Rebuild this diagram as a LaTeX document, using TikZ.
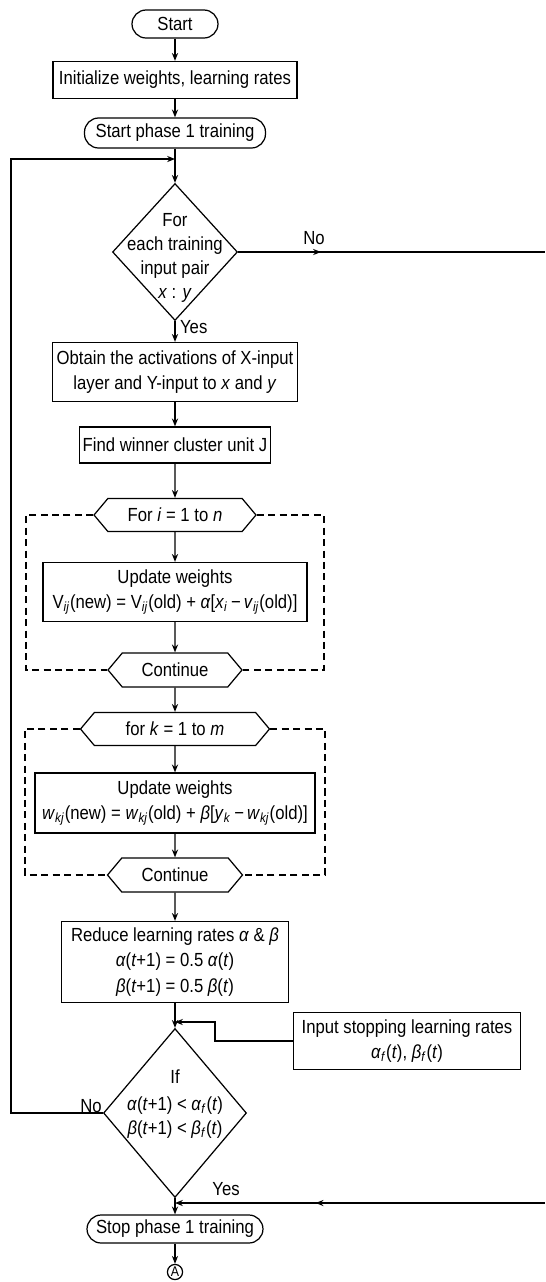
\documentclass[tikz,border=0pt]{standalone}
\usepackage{fontspec}
\setmainfont{Liberation Sans}[FakeStretch=0.88]
\usepackage{tikz}
\usetikzlibrary{positioning,arrows.meta,shapes.geometric,shapes.symbols,decorations.markings}
\newcommand{\vi}[1]{\textit{#1}}
\newcommand{\sbi}[1]{\textsubscript{\textit{#1}}}
\tikzset{
  base/.style={draw=black, line width=0.7pt, fill=white, font=\fontsize{10.8}{14.5}\selectfont, align=center, inner sep=1pt},
  term/.style={base, rectangle, rounded corners=8pt},
  proc/.style={base, rectangle},
  hexa/.style={base, signal, signal to=west and east, signal pointer angle=100},
  dec/.style={base, diamond, inner sep=0pt},
  dtxt/.style={font=\fontsize{10.8}{13.5}\selectfont, align=center, inner sep=0pt},
  lbl/.style={font=\fontsize{10.8}{13}\selectfont, inner sep=1pt},
  conn/.style={base, circle, inner sep=0.5pt, minimum size=0.24cm, font=\fontsize{8}{9}\selectfont},
  ln/.style={draw=black, line width=0.7pt},
  arr/.style={ln, -{Stealth[length=4.5pt, width=3.5pt]}},
  midarr/.style={postaction={decorate}, decoration={markings, mark=at position #1 with {\arrow{Stealth[length=4.5pt, width=3.5pt]}}}},
  loopbox/.style={draw=black, line width=0.6pt, dash pattern=on 4pt off 2.5pt}
}
\begin{document}
\begin{tikzpicture}[x=0.02cm, y=-0.02cm]
        \useasboundingbox (0,0) rectangle (545,1282);
        % main column
        \node[term, minimum width=1.72cm, minimum height=0.56cm] (start) at (175,24) {Start};
        \node[proc, minimum width=4.88cm, minimum height=0.74cm] (init) at (175,80) {Initialize weights, learning rates};
        \node[term, minimum width=3.62cm, minimum height=0.6cm] (ph1) at (175,133) {Start phase 1 training};
        \coordinate (top) at (175,159);
        \node[dec, minimum width=2.5cm, minimum height=2.74cm] (q1) at (175,252) {};
        \node[dtxt] (q1t) at (175,258) {For\\each training\\input pair\\\vi{x} : \vi{y}};
        \node[proc, minimum width=4.9cm, minimum height=1.18cm] (obt) at (175,372) {Obtain the activations of X-input\\layer and Y-input to \vi{x} and \vi{y}};
        \node[proc, minimum width=3.82cm, minimum height=0.72cm] (find) at (175,445) {Find winner cluster unit J};
        \node[hexa, minimum width=3.24cm, minimum height=0.66cm] (fori) at (175,515) {For \vi{i} = 1 to \vi{n}};
        \node[proc, minimum width=5.28cm, minimum height=1.18cm] (upd1) at (175,592) {Update weights\\V\sbi{ij}(new) = V\sbi{ij}(old) + \vi{α}[\vi{x}\sbi{i}\,−\,\vi{v}\sbi{ij}(old)]};
        \node[hexa, minimum width=2.68cm, minimum height=0.68cm] (cont1) at (175,670) {Continue};
        \node[hexa, minimum width=3.78cm, minimum height=0.66cm] (fork) at (175,729) {for \vi{k} = 1 to \vi{m}};
        \node[proc, minimum width=5.6cm, minimum height=1.2cm] (upd2) at (175,803) {Update weights\\\vi{w}\sbi{kj}(new) = \vi{w}\sbi{kj}(old) + \vi{β}[\vi{y}\sbi{k}\,−\,\vi{w}\sbi{kj}(old)]};
        \node[hexa, minimum width=2.7cm, minimum height=0.68cm] (cont2) at (175,875) {Continue};
        \node[proc, minimum width=4.54cm, minimum height=1.62cm] (red) at (175,962) {Reduce learning rates \vi{α} \& \vi{β}\\\vi{α}(\vi{t}+1) = 0.5 \vi{α}(\vi{t})\\\vi{β}(\vi{t}+1) = 0.5 \vi{β}(\vi{t})};
        \node[proc, minimum width=4.54cm, minimum height=1.14cm] (inp) at (407,1041) {Input stopping learning rates\\\vi{α}\sbi{f}(\vi{t}), \vi{β}\sbi{f}(\vi{t})};
        \coordinate (mj) at (175,1022);
        \coordinate (bend) at (215,1022);
        \node[dec, minimum width=2.86cm, minimum height=3.38cm] (q2) at (175,1113) {};
        \node[dtxt] (q2t) at (175,1104) {If\\[2pt]\vi{α}(\vi{t}+1) < \vi{α}\sbi{f}(\vi{t})\\\vi{β}(\vi{t}+1) < \vi{β}\sbi{f}(\vi{t})};
        \coordinate (bot) at (175,1203);
        \node[term, minimum width=3.52cm, minimum height=0.56cm] (stop) at (175,1229) {Stop phase 1 training};
        \node[conn] (A) at (175,1272) {A};
        % loop frames
        \coordinate (d1a) at (26,515); \coordinate (d1b) at (324,515);
        \coordinate (d2a) at (25,729); \coordinate (d2b) at (325,729);
        \draw[loopbox] (fori.west) -- (d1a) |- (cont1.west);
        \draw[loopbox] (fori.east) -- (d1b) |- (cont1.east);
        \draw[loopbox] (fork.west) -- (d2a) |- (cont2.west);
        \draw[loopbox] (fork.east) -- (d2b) |- (cont2.east);
        % flow
        \draw[arr] (start) -- (init);
        \draw[arr] (init) -- (ph1);
        \draw[ln] (ph1) -- (top);
        \draw[arr] (top) -- (q1.north);
        \draw[arr] (q1.south) -- (obt);
        \draw[arr] (obt) -- (find);
        \draw[arr] (find) -- (fori);
        \draw[arr] (fori) -- (upd1);
        \draw[arr] (upd1) -- (cont1);
        \draw[arr] (cont1) -- (fork);
        \draw[arr] (fork) -- (upd2);
        \draw[arr] (upd2) -- (cont2);
        \draw[arr] (cont2) -- (red);
        \draw[arr] (red) -- (q2.north);
        \draw[arr] (inp.west) -| (bend) -- (mj);
        \draw[ln] (q2.south) -- (bot);
        \draw[arr] (bot) -- (stop);
        \draw[arr] (stop) -- (A);
        % back loop and side exits
        \coordinate (lc) at (11,159);
        \draw[arr] (q2.west) -| (lc) -- (top);
        \coordinate (rno) at (545,252);
        \draw[ln, midarr=0.27] (q1.east) -- (rno);
        \coordinate (ryes) at (545,1203);
        \draw[arr, midarr=0.62] (ryes) -- (bot);
        % labels
        \node[lbl] (no1) at (314,238) {No};
        \node[lbl, anchor=west] (yes1) at (178,327) {Yes};
        \node[lbl] (no2) at (91,1106) {No};
        \node[lbl] (yes2) at (226,1189) {Yes};
      \end{tikzpicture}
\end{document}
